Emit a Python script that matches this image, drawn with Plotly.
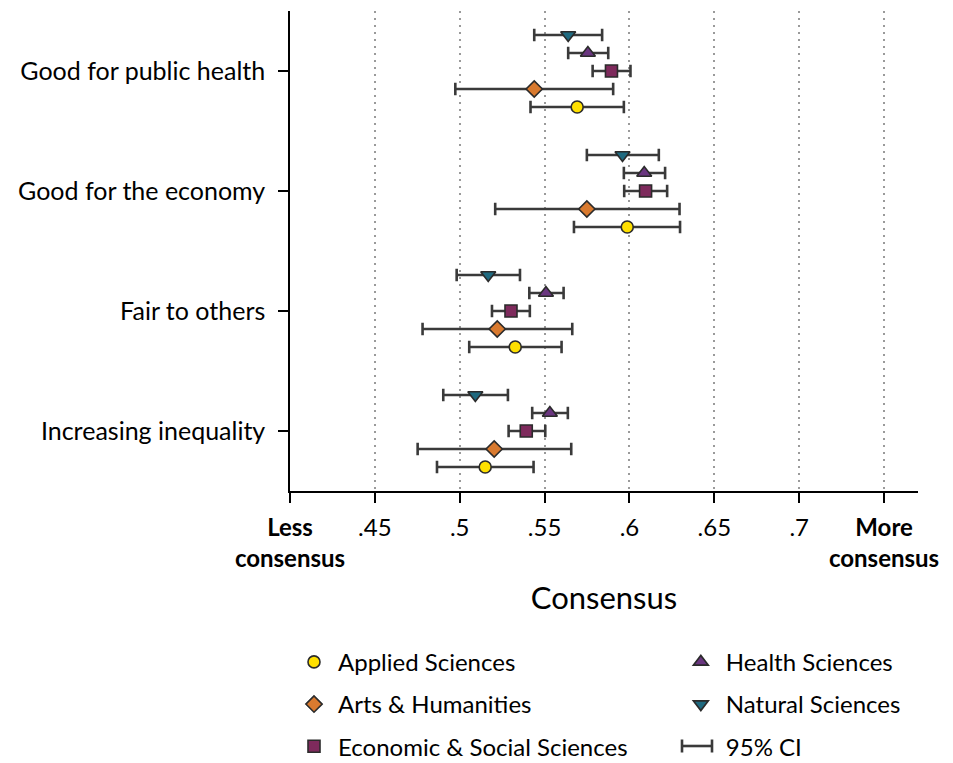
import plotly.graph_objects as go

categories = ["Good for public health", "Good for the economy", "Fair to others", "Increasing inequality"]
cat_pos = [4, 3, 2, 1]

series_names = ["Applied Sciences", "Arts & Humanities", "Economic & Social Sciences",
                "Health Sciences", "Natural Sciences"]

applied_est = [0.5692, 0.5987, 0.5327, 0.5150]
applied_lo = [0.5417, 0.5673, 0.5056, 0.4866]
applied_hi = [0.5967, 0.6298, 0.5600, 0.5435]

arts_est = [0.5439, 0.5749, 0.5221, 0.5203]
arts_lo = [0.4974, 0.5209, 0.4781, 0.4752]
arts_hi = [0.5904, 0.6295, 0.5663, 0.5657]

econ_est = [0.5894, 0.6095, 0.5302, 0.5392]
econ_lo = [0.5783, 0.5969, 0.5190, 0.5288]
econ_hi = [0.6006, 0.6222, 0.5413, 0.5504]

health_est = [0.5755, 0.6087, 0.5508, 0.5531]
health_lo = [0.5639, 0.5967, 0.5410, 0.5427]
health_hi = [0.5875, 0.6210, 0.5612, 0.5637]

natural_est = [0.5639, 0.5959, 0.5168, 0.5092]
natural_lo = [0.5439, 0.5749, 0.4982, 0.4903]
natural_hi = [0.5839, 0.6173, 0.5355, 0.5284]

x_tickvals = [0.4, 0.45, 0.5, 0.55, 0.6, 0.65, 0.7, 0.75]
x_ticktext = ["<b>Less</b><br><b>consensus</b>", ".45", ".5", ".55", ".6", ".65", ".7",
              "<b>More</b><br><b>consensus</b>"]

FONT = "Lato"
EDGE = "#2b2b2b"
BAR = "#3a3a3a"

styles = [
    dict(est=applied_est, lo=applied_lo, hi=applied_hi, off=-0.3, sym="circle", size=12, color="#FFE000", legend="legend"),
    dict(est=arts_est, lo=arts_lo, hi=arts_hi, off=-0.15, sym="diamond", size=12.5, color="#D97A2F", legend="legend"),
    dict(est=econ_est, lo=econ_lo, hi=econ_hi, off=0.0, sym="square", size=12, color="#7E2A5C", legend="legend"),
    dict(est=health_est, lo=health_lo, hi=health_hi, off=0.15, sym="triangle-up", size=13, color="#6A3680", legend="legend2"),
    dict(est=natural_est, lo=natural_lo, hi=natural_hi, off=0.3, sym="triangle-down", size=13, color="#1F6A80", legend="legend2"),
]

fig = go.Figure()
for name, s in zip(series_names, styles):
    fig.add_trace(go.Scatter(
        x=s["est"], y=[p + s["off"] for p in cat_pos], mode="markers", name=name,
        legend=s["legend"], legendgroup=name,
        marker=dict(symbol=s["sym"], size=s["size"], color=s["color"], line=dict(color=EDGE, width=1.6)),
        error_x=dict(type="data", symmetric=False,
                     array=[h - e for h, e in zip(s["hi"], s["est"])],
                     arrayminus=[e - l for e, l in zip(s["est"], s["lo"])],
                     color=BAR, thickness=2.6, width=6.2),
    ))

# legend entry for the confidence interval (its |—| symbol is drawn with shapes below)
fig.add_trace(go.Scatter(x=[None], y=[None], mode="lines", name="95% CI", legend="legend2",
                         legendgroup="ci", line=dict(color="rgba(0,0,0,0)", width=2.6)))

# the page body has an 8px margin, so the figure is sized to fit the 953x763 window
BODY = 8
FIG_W, FIG_H = 953 - BODY, 763 - BODY
# plot-area edges in window pixels
PLOT_L, PLOT_R, PLOT_T, PLOT_B = 290, 918, 11, 491
PLOT_W, PLOT_H = PLOT_R - PLOT_L, PLOT_B - PLOT_T

def px2paper(px, py):
    return (px - PLOT_L) / PLOT_W, (PLOT_B - py) / PLOT_H

# |—| symbol for the 95% CI legend entry
CI_X0, CI_X1, CI_Y = 682, 712, 746
xa, ya = px2paper(CI_X0, CI_Y)
shapes = [dict(type="line", xref="paper", yref="paper",
               xsizemode="pixel", ysizemode="pixel", xanchor=xa, yanchor=ya,
               x0=0, x1=CI_X1 - CI_X0, y0=0, y1=0, line=dict(color=BAR, width=2.6))]
for cx in (CI_X0, CI_X1):
    xp, yp = px2paper(cx, CI_Y)
    shapes.append(dict(type="line", xref="paper", yref="paper",
                       xsizemode="pixel", ysizemode="pixel", xanchor=xp, yanchor=yp,
                       x0=0, x1=0, y0=-6.5, y1=6.5, line=dict(color=BAR, width=2.6)))

fig.update_layout(
    width=FIG_W, height=FIG_H,
    margin=dict(l=PLOT_L - BODY, r=FIG_W - (PLOT_R - BODY), t=PLOT_T - BODY,
                b=FIG_H - (PLOT_B - BODY), autoexpand=False),
    paper_bgcolor="white", plot_bgcolor="white",
    font=dict(family=FONT, color="black", size=25),
    showlegend=True,
    shapes=shapes,
    legend=dict(x=0.0, xanchor="left", y=-0.31, yanchor="top", orientation="v", itemwidth=38,
                tracegroupgap=8, font=dict(size=24, family=FONT), bgcolor="rgba(0,0,0,0)"),
    legend2=dict(x=0.6144, xanchor="left", y=-0.31, yanchor="top", orientation="v", itemwidth=40,
                 tracegroupgap=8, font=dict(size=24, family=FONT), bgcolor="rgba(0,0,0,0)"),
)

fig.update_xaxes(
    range=[0.4, 0.77], tickvals=x_tickvals, ticktext=x_ticktext, automargin=False,
    showline=True, linecolor="black", linewidth=1.5,
    ticks="outside", ticklen=10, tickwidth=1.5, tickcolor="black",
    showgrid=True, gridcolor="#9a9a9a", gridwidth=1.5, griddash="2px,5px",
    zeroline=False, tickfont=dict(size=24), ticklabelstandoff=4,
    title=dict(text="Consensus", font=dict(size=31), standoff=17),
)
fig.update_yaxes(
    range=[0.5, 4.5], tickvals=cat_pos, ticktext=categories, automargin=False,
    showline=True, linecolor="black", linewidth=1.5,
    ticks="outside", ticklen=10, tickwidth=1.5, tickcolor="black",
    showgrid=False, zeroline=False, tickfont=dict(size=25), ticklabelstandoff=8,
)

fig.write_html("out.html")
